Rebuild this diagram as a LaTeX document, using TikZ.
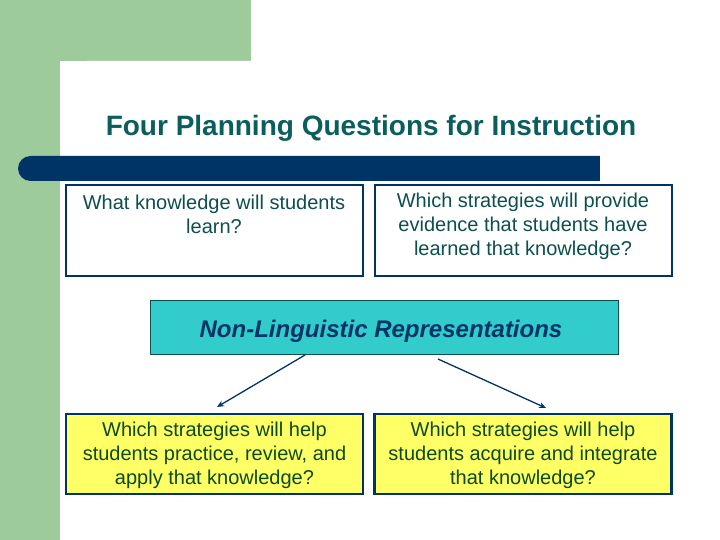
\documentclass[tikz,border=0pt]{standalone}
\usepackage{fontspec}
\setmainfont{Liberation Sans}
\usetikzlibrary{arrows.meta}
\definecolor{sage}{HTML}{9ECB9B}
\definecolor{navy}{HTML}{003366}
\definecolor{titleteal}{HTML}{0B5E5E}
\definecolor{boxteal}{HTML}{0D4F4F}
\definecolor{cyanfill}{HTML}{33CCCC}
\definecolor{yellowfill}{HTML}{FFFF66}
\definecolor{greentext}{HTML}{0B4A1E}
\tikzset{
  qbox/.style={draw=navy, line width=2pt, fill=white, minimum width=297pt, minimum height=90pt, inner sep=0pt},
  ybox/.style={draw=navy, line width=2.5pt, fill=yellowfill, minimum width=297pt, minimum height=80pt, inner sep=0pt},
  qtext/.style={text=boxteal, font=\fontsize{20}{24}\selectfont, align=center, inner sep=0pt},
  ytext/.style={text=greentext, font=\fontsize{20}{24}\selectfont, align=center, inner sep=0pt},
  link/.style={draw=navy, line width=1.3pt, -{Stealth[length=7pt,width=6pt]}}
}
\begin{document}
\begin{tikzpicture}[x=1pt,y=-1pt]
\useasboundingbox (0,0) rectangle (720,540);
% background
\fill[sage] (0,0) rectangle (251,61);
\fill[sage] (0,0) rectangle (60,540);
\fill[white, rounded corners=26pt] (60,61) rectangle (760,580);
% title
\node[text=titleteal, font=\fontsize{28}{32}\selectfont\bfseries] (title) at (371,128) {Four Planning Questions for Instruction};
% bar
\fill[navy, rounded corners=12.5pt] (18,156) rectangle (630,181);
\fill[navy] (580,156) rectangle (600,181);
\fill[white] (600,150) rectangle (640,185);
% top boxes
\node[qbox] (k) at (214,230.5) {};
\node[qbox] (e) at (523,230.5) {};
\node[qtext] (kt) at (214,214) {What knowledge will students\\learn?};
\node[qtext] (et) at (523,226) {Which strategies will provide\\evidence that students have\\learned that knowledge?};
% center box
\node[draw=boxteal, line width=0.8pt, fill=cyanfill, minimum width=468pt, minimum height=54pt, inner sep=0pt] (nlr) at (384,327) {};
\node[text=navy, font=\fontsize{24}{28}\selectfont\bfseries\itshape, inner sep=0pt] (nlrt) at (381,331) {Non-Linguistic Representations};
% bottom boxes
\node[ybox] (p) at (214.5,454) {};
\node[ybox] (a) at (523,454) {};
\node[ytext] (pt) at (214.5,455.5) {Which strategies will help\\students practice, review, and\\apply that knowledge?};
\node[ytext] (at) at (523,455.5) {Which strategies will help\\students acquire and integrate\\that knowledge?};
% arrows
\coordinate (l1) at (305,355);
\coordinate (l2) at (217,407);
\coordinate (r1) at (438,359);
\coordinate (r2) at (546,408);
\draw[link] (l1) -- (l2);
\draw[link] (r1) -- (r2);
\end{tikzpicture}
\end{document}
